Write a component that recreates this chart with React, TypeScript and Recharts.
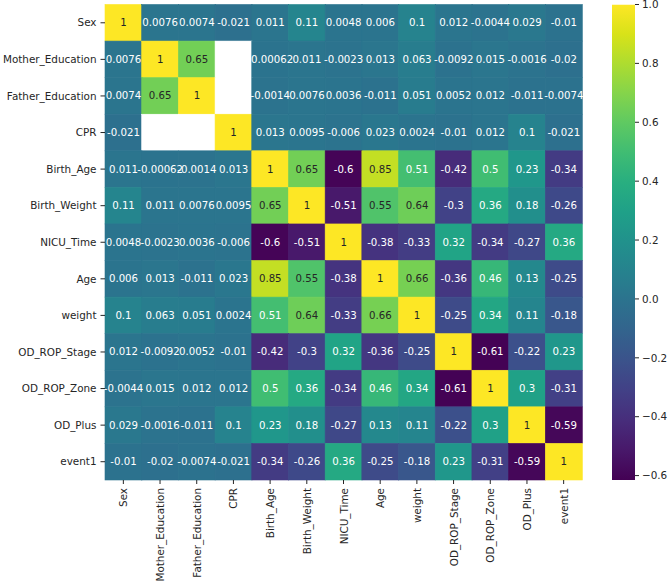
import { Bar, BarChart, LabelList, XAxis, YAxis } from "recharts";

const labels = [
  "Sex",
  "Mother_Education",
  "Father_Education",
  "CPR",
  "Birth_Age",
  "Birth_Weight",
  "NICU_Time",
  "Age",
  "weight",
  "OD_ROP_Stage",
  "OD_ROP_Zone",
  "OD_Plus",
  "event1",
];

// correlation rows, null = masked (white) cell
const sexRow = [1, 0.0076, 0.0074, -0.021, 0.011, 0.11, 0.0048, 0.006, 0.1, 0.012, -0.0044, 0.029, -0.01];
const motherRow = [0.0076, 1, 0.65, null, -0.00062, 0.011, -0.0023, 0.013, 0.063, -0.0092, 0.015, -0.0016, -0.02];
const fatherRow = [0.0074, 0.65, 1, null, -0.0014, 0.0076, 0.0036, -0.011, 0.051, 0.0052, 0.012, -0.011, -0.0074];
const cprRow = [-0.021, null, null, 1, 0.013, 0.0095, -0.006, 0.023, 0.0024, -0.01, 0.012, 0.1, -0.021];
const birthAgeRow = [0.011, -0.00062, -0.0014, 0.013, 1, 0.65, -0.6, 0.85, 0.51, -0.42, 0.5, 0.23, -0.34];
const birthWeightRow = [0.11, 0.011, 0.0076, 0.0095, 0.65, 1, -0.51, 0.55, 0.64, -0.3, 0.36, 0.18, -0.26];
const nicuRow = [0.0048, -0.0023, 0.0036, -0.006, -0.6, -0.51, 1, -0.38, -0.33, 0.32, -0.34, -0.27, 0.36];
const ageRow = [0.006, 0.013, -0.011, 0.023, 0.85, 0.55, -0.38, 1, 0.66, -0.36, 0.46, 0.13, -0.25];
const weightRow = [0.1, 0.063, 0.051, 0.0024, 0.51, 0.64, -0.33, 0.66, 1, -0.25, 0.34, 0.11, -0.18];
const stageRow = [0.012, -0.0092, 0.0052, -0.01, -0.42, -0.3, 0.32, -0.36, -0.25, 1, -0.61, -0.22, 0.23];
const zoneRow = [-0.0044, 0.015, 0.012, 0.012, 0.5, 0.36, -0.34, 0.46, 0.34, -0.61, 1, 0.3, -0.31];
const plusRow = [0.029, -0.0016, -0.011, 0.1, 0.23, 0.18, -0.27, 0.13, 0.11, -0.22, 0.3, 1, -0.59];
const event1Row = [-0.01, -0.02, -0.0074, -0.021, -0.34, -0.26, 0.36, -0.25, -0.18, 0.23, -0.31, -0.59, 1];

const matrix: (number | null)[][] = [
  sexRow, motherRow, fatherRow, cprRow, birthAgeRow, birthWeightRow, nicuRow,
  ageRow, weightRow, stageRow, zoneRow, plusRow, event1Row,
];

const colorbarTicks = [-0.6, -0.4, -0.2, 0, 0.2, 0.4, 0.6, 0.8, 1.0];
const vmin = -0.615;
const vmax = 1;

const viridis = [
  "#440154", "#48186a", "#472d7b", "#424086", "#3b528b", "#33638d", "#2c728e", "#26828e",
  "#21918c", "#1fa088", "#28ae80", "#3fbc73", "#5ec962", "#84d44b", "#addc30", "#d8e219", "#fde725",
];

const FONT = "DejaVu Sans, Verdana, sans-serif";
const TXT = "#262626";

function hexRgb(h: string) {
  return [1, 3, 5].map((k) => parseInt(h.slice(k, k + 2), 16));
}

function viridisAt(t: number) {
  const c = Math.max(0, Math.min(1, t)) * (viridis.length - 1);
  const i = Math.min(Math.floor(c), viridis.length - 2);
  const f = c - i;
  const a = hexRgb(viridis[i]);
  const b = hexRgb(viridis[i + 1]);
  return a.map((v, k) => Math.round(v + (b[k] - v) * f));
}

function lum(rgb: number[]) {
  const lin = rgb.map((v) => {
    const s = v / 255;
    return s <= 0.03928 ? s / 12.92 : Math.pow((s + 0.055) / 1.055, 2.4);
  });
  return 0.2126 * lin[0] + 0.7152 * lin[1] + 0.0722 * lin[2];
}

const fmt = (v: number) => String(Number(v.toPrecision(2)));

const chartData = labels.map((name) => {
  const row: Record<string, string | number> = { name };
  labels.forEach((_, i) => (row[`r${i}`] = 1));
  return row;
});

const cbData = [{ name: "cbar", range: [vmin, vmax] }];

function makeCell(rowIdx: number) {
  return (props: any) => {
    const { x, width, index } = props;
    // reversed axis gives negative heights
    const y = Math.min(props.y, props.y + props.height);
    const height = Math.abs(props.height);
    const v = matrix[rowIdx][index];
    const fill = v === null ? "#ffffff" : `rgb(${viridisAt((v - vmin) / (vmax - vmin)).join(",")})`;
    return <rect x={x} y={y} width={width} height={height} fill={fill} stroke={fill} strokeWidth={0.6} />;
  };
}

function makeAnnot(rowIdx: number) {
  return (props: any) => {
    const { x, y, width, height, index } = props;
    const v = matrix[rowIdx][index];
    if (v === null) return null;
    const rgb = viridisAt((v - vmin) / (vmax - vmin));
    const color = lum(rgb) > 0.408 ? TXT : "#ffffff";
    return (
      <text
        key={`a${rowIdx}-${index}`}
        x={Number(x) + Number(width) / 2}
        y={Number(y) + Number(height) / 2}
        textAnchor="middle"
        dominantBaseline="central"
        fontSize={10.2}
        fontFamily={FONT}
        fill={color}
      >
        {fmt(v)}
      </text>
    );
  };
}

function XTick(props: any) {
  const { x, y, payload } = props;
  return (
    <g transform={`translate(${x},${y})`}>
      <text
        transform="rotate(-90)"
        textAnchor="end"
        dominantBaseline="central"
        fontSize={10.4}
        fontFamily={FONT}
        fill={TXT}
      >
        {payload.value}
      </text>
    </g>
  );
}

export default function App() {
  return (
    <div style={{ position: "absolute", left: 0, top: 0, width: 669, height: 585, background: "#fff" }}>
      <div style={{ position: "absolute", left: 0, top: 0 }}>
        <BarChart
          width={600}
          height={585}
          data={chartData}
          margin={{ top: 4.5, right: 18, bottom: 0, left: 0 }}
          barCategoryGap={0}
          barGap={0}
        >
          <XAxis
            dataKey="name"
            type="category"
            interval={0}
            axisLine={false}
            tickLine={{ stroke: TXT }}
            tickSize={4}
            tickMargin={4}
            height={105}
            tick={<XTick />}
          />
          <YAxis
            type="number"
            domain={[0, 13]}
            reversed
            ticks={labels.map((_, i) => i + 0.5)}
            interval={0}
            tickFormatter={(v: number) => labels[Math.floor(v)]}
            axisLine={false}
            tickLine={{ stroke: TXT }}
            tickSize={4.5}
            tickMargin={4}
            width={105}
            tick={{ fontSize: 10.4, fontFamily: FONT, fill: TXT }}
          />
          {labels.map((_, i) => (
            <Bar key={i} dataKey={`r${i}`} stackId="s" isAnimationActive={false} shape={makeCell(i)}>
              <LabelList dataKey={`r${i}`} content={makeAnnot(i)} />
            </Bar>
          ))}
        </BarChart>
      </div>
      <div style={{ position: "absolute", left: 612, top: 0 }}>
        <BarChart
          width={57}
          height={585}
          data={cbData}
          margin={{ top: 4.5, right: 0, bottom: 105, left: 0 }}
          barCategoryGap={0}
        >
          <defs>
            <linearGradient id="viridisGrad" x1="0" y1="1" x2="0" y2="0">
              {viridis.map((c, i) => (
                <stop key={i} offset={i / (viridis.length - 1)} stopColor={c} />
              ))}
            </linearGradient>
          </defs>
          <XAxis dataKey="name" hide />
          <YAxis
            orientation="right"
            type="number"
            domain={[vmin, vmax]}
            allowDataOverflow
            ticks={colorbarTicks}
            interval={0}
            tickFormatter={(v: number) => v.toFixed(1).replace("-", "\u2212")}
            axisLine={false}
            tickLine={{ stroke: TXT }}
            tickSize={4}
            tickMargin={3}
            width={34}
            tick={{ fontSize: 10.4, fontFamily: FONT, fill: TXT, textAnchor: "start" }}
          />
          <Bar dataKey="range" fill="url(#viridisGrad)" isAnimationActive={false} />
        </BarChart>
      </div>
    </div>
  );
}
